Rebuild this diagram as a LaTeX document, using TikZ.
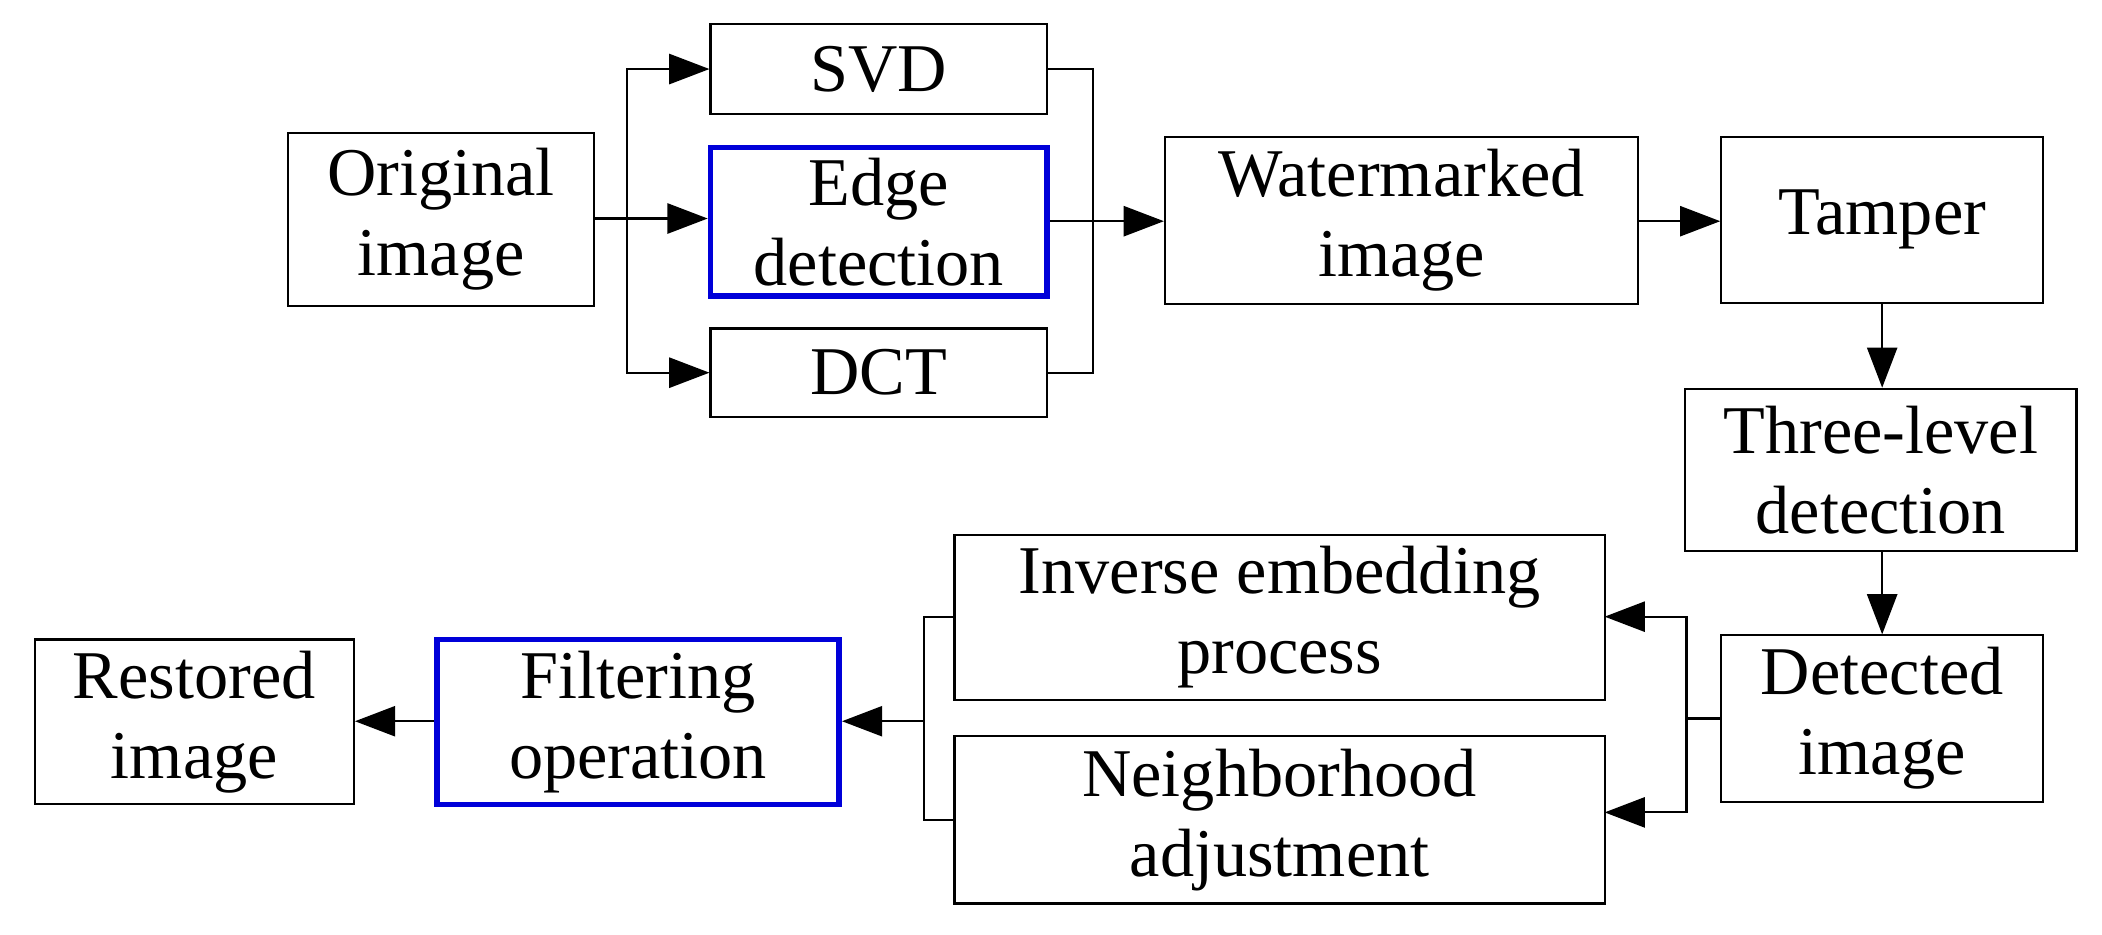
\documentclass[tikz,border=0pt]{standalone}
\usepackage{fontspec}
\setmainfont{Liberation Serif}
\usetikzlibrary{arrows.meta}
\begin{document}
\begin{tikzpicture}[x=0.02cm,y=-0.02cm,
  box/.style={draw,line width=0.9pt,inner sep=0pt,align=center,font=\fontsize{29}{34}\selectfont},
  hl/.style={draw=blue!85!black,line width=2.4pt},
  ln/.style={line width=0.9pt},
  ar/.style={ln,-{Triangle[length=0.6cm,width=0.45cm]}}]
\useasboundingbox (0,0) rectangle (1568,697);
\newcommand{\bx}[6]{\node[box,#6,minimum width={(#3-#2)*0.02cm},minimum height={(#5-#4)*0.02cm}] (#1) at ({(#2+#3)/2},{(#4+#5)/2})}
\bx{orig}{215}{443}{99}{228}{}{Original\\image};
\bx{svd}{530}{781}{18}{85}{}{SVD};
\bx{edge}{530}{781}{110}{221}{hl}{Edge\\detection};
\bx{dct}{530}{781}{245}{311}{}{DCT};
\bx{wm}{869}{1222}{102}{227}{}{Watermarked\\image};
\bx{tam}{1284}{1524}{102}{226}{}{Tamper};
\bx{three}{1257}{1549}{290}{411}{}{Three-level\\detection};
\bx{det}{1284}{1524}{474}{598}{}{Detected\\image};
\bx{inv}{712}{1197}{399}{522}{}{Inverse embedding\\process};
\bx{nei}{712}{1197}{549}{674}{}{Neighborhood\\adjustment};
\bx{fil}{326}{626}{477}{600}{hl}{Filtering\\operation};
\bx{res}{26}{264}{477}{600}{}{Restored\\image};
\coordinate (s1) at (468,163);
\coordinate (m1) at (815,165);
\coordinate (s2) at (1258,536);
\coordinate (m2) at (689,538);
\draw[ln] (orig.east|-s1) -- (s1);
\draw[ar] (s1) |- (svd.west);
\draw[ar] (s1) -- (edge.west|-s1);
\draw[ar] (s1) |- (dct.west);
\draw[ln] (svd.east) -| (m1) |- (dct.east);
\draw[ar] (edge.east|-m1) -- (wm.west|-m1);
\draw[ar] (wm.east|-m1) -- (tam.west|-m1);
\draw[ar] (tam.south) -- (three.north-|tam.south);
\draw[ar] (three.south-|det.north) -- (det.north);
\draw[ln] (det.west|-s2) -- (s2);
\draw[ar] (s2) |- (1197,460);
\draw[ar] (s2) |- (1197,606);
\draw[ln] (712,460) -| (m2) |- (712,612);
\draw[ar] (m2) -- (fil.east|-m2);
\draw[ar] (fil.west|-m2) -- (res.east|-m2);
\end{tikzpicture}
\end{document}
